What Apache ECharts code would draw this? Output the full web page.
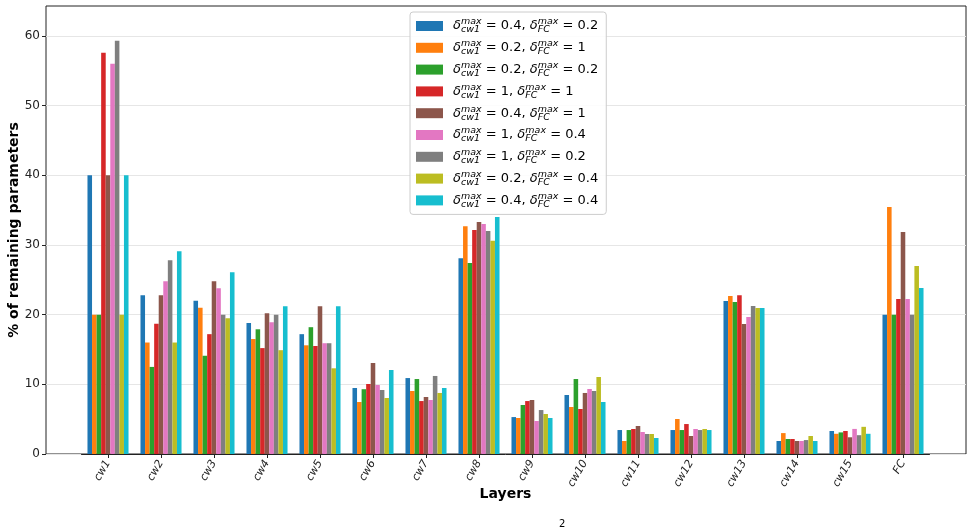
<!DOCTYPE html>
<html>
<head>
<meta charset="utf-8">
<script src="https://cdn.jsdelivr.net/npm/echarts@6/dist/echarts.min.js"></script>
<style>html,body{margin:0;padding:0;background:#fff;}#c{width:973px;height:527px;}</style>
</head>
<body>
<div id="c"></div>
<script>
const categories = ['cw1','cw2','cw3','cw4','cw5','cw6','cw7','cw8','cw9','cw10','cw11','cw12','cw13','cw14','cw15','FC'];
const yTicks = [0, 10, 20, 30, 40, 50, 60];
const cw1Max = ['0.4','0.2','0.2','1','0.4','1','1','0.2','0.4'];
const fcMax  = ['0.2','1','0.2','1','1','0.4','0.2','0.4','0.4'];
const colors = ['#1f77b4','#ff7f0e','#2ca02c','#d62728','#8c564b','#e377c2','#7f7f7f','#bcbd22','#17becf'];

const s1 = [40.0, 22.8, 22.0, 18.8, 17.2, 9.47, 10.9, 28.1, 5.3, 8.47, 3.44, 3.44, 21.96, 1.87, 3.3, 20.0];
const s2 = [20.0, 16.0, 21.0, 16.5, 15.6, 7.46, 9.04, 32.7, 5.17, 6.75, 1.87, 5.02, 22.68, 3.0, 2.9, 35.45];
const s3 = [20.0, 12.5, 14.1, 17.9, 18.2, 9.3, 10.76, 27.4, 7.03, 10.76, 3.44, 3.44, 21.8, 2.15, 3.1, 20.0];
const s4 = [57.6, 18.7, 17.2, 15.2, 15.5, 10.05, 7.6, 32.15, 7.6, 6.46, 3.59, 4.3, 22.8, 2.15, 3.3, 22.25];
const s5 = [40.0, 22.8, 24.8, 20.2, 21.2, 13.06, 8.18, 33.3, 7.75, 8.76, 4.02, 2.58, 18.66, 1.87, 2.4, 31.86];
const s6 = [56.0, 24.8, 23.8, 18.9, 15.9, 9.9, 7.75, 33.0, 4.74, 9.33, 3.16, 3.59, 19.66, 1.87, 3.6, 22.25];
const s7 = [59.3, 27.8, 20.0, 20.0, 15.9, 9.19, 11.2, 32.0, 6.31, 9.04, 2.87, 3.44, 21.24, 2.0, 2.7, 20.0];
const s8 = [20.0, 16.0, 19.5, 14.9, 12.3, 8.04, 8.76, 30.6, 5.74, 11.05, 2.87, 3.59, 20.96, 2.58, 3.9, 26.98];
const s9 = [40.0, 29.1, 26.1, 21.2, 21.2, 12.06, 9.47, 34.0, 5.17, 7.46, 2.3, 3.44, 20.96, 1.87, 2.9, 23.83];
const seriesData = [s1, s2, s3, s4, s5, s6, s7, s8, s9];

const names = cw1Max.map((a, i) => 'δ_cw1^max = ' + a + ', δ_FC^max = ' + fcMax[i]);
const FONT = 'DejaVu Sans';
const YMAX = 64.3;

const chart = echarts.init(document.getElementById('c'), null, {renderer: 'canvas'});
chart.setOption({
  animation: false,
  color: colors,
  textStyle: {fontFamily: FONT},
  grid: [
    {left: 46, right: 7, top: 6, bottom: 73, show: true, borderColor: '#222', borderWidth: 1,
     backgroundColor: 'transparent', containLabel: false, outerBoundsMode: 'none'},
    {left: 81.5, width: 848, top: 6, bottom: 73, containLabel: false, outerBoundsMode: 'none'}
  ],
  xAxis: [
    {gridIndex: 0, type: 'value', min: 0, max: 1, show: false},
    {gridIndex: 1, type: 'category', data: categories,
     axisLine: {show: true, lineStyle: {color: '#222', width: 1}},
     axisTick: {show: true, alignWithLabel: true, length: 4, lineStyle: {color: '#222'}},
     axisLabel: {rotate: 60, fontSize: 11, fontStyle: 'italic', color: '#222', margin: 7, fontFamily: FONT},
     name: 'Layers', nameLocation: 'middle', nameGap: 33, nameMoveOverlap: false,
     nameTextStyle: {fontSize: 14, fontWeight: 'bold', color: '#000', fontFamily: FONT}}
  ],
  yAxis: [
    {gridIndex: 0, type: 'value', min: 0, max: YMAX, interval: 10,
     axisLine: {show: false},
     axisTick: {show: true, length: 4, lineStyle: {color: '#222'}, customValues: yTicks},
     axisLabel: {fontSize: 12, color: '#222', margin: 6, customValues: yTicks, fontFamily: FONT},
     splitLine: {show: true, lineStyle: {color: '#e6e6e6', width: 1}},
     name: '% of remaining parameters', nameLocation: 'middle', nameGap: 25, nameRotate: 90, nameMoveOverlap: false,
     nameTextStyle: {fontSize: 14, fontWeight: 'bold', color: '#000', fontFamily: FONT}},
    {gridIndex: 1, type: 'value', min: 0, max: YMAX, show: false, splitLine: {show: false}}
  ],
  legend: {
    orient: 'vertical', left: 410, top: 12,
    padding: [5, 8, 5, 6],
    itemWidth: 27, itemHeight: 10, itemGap: 3.8,
    icon: 'rect',
    backgroundColor: 'rgba(255,255,255,0.85)',
    borderColor: '#cccccc', borderWidth: 1, borderRadius: 3,
    data: names,
    formatter: function (name) {
      const i = names.indexOf(name);
      return '{sp|}{d|δ}{sb|cw1}{su|max}{t| = ' + cw1Max[i] + ', }{d|δ}{sb|FC}{su|max}{t| = ' + fcMax[i] + '}';
    },
    textStyle: {
      fontFamily: FONT, color: '#000', fontSize: 13,
      rich: {
        sp: {width: 5, lineHeight: 18},
        d: {fontSize: 13, fontStyle: 'italic', lineHeight: 18, verticalAlign: 'middle', fontFamily: FONT},
        t: {fontSize: 13, lineHeight: 18, verticalAlign: 'middle', fontFamily: FONT},
        su: {fontSize: 9.5, fontStyle: 'italic', lineHeight: 7, verticalAlign: 'top', fontFamily: FONT},
        sb: {fontSize: 9.5, fontStyle: 'italic', lineHeight: 8, verticalAlign: 'bottom', width: 0.01, fontFamily: FONT}
      }
    }
  },
  graphic: [
    {type: 'text', left: 559, top: 519, style: {text: '2', fontSize: 10, fill: '#000', fontFamily: FONT}}
  ],
  series: seriesData.map((d, i) => ({
    name: names[i], type: 'bar', xAxisIndex: 1, yAxisIndex: 1,
    data: d, barWidth: 4.56, barGap: '0%',
    itemStyle: {color: colors[i]}
  }))
});
</script>
</body>
</html>
